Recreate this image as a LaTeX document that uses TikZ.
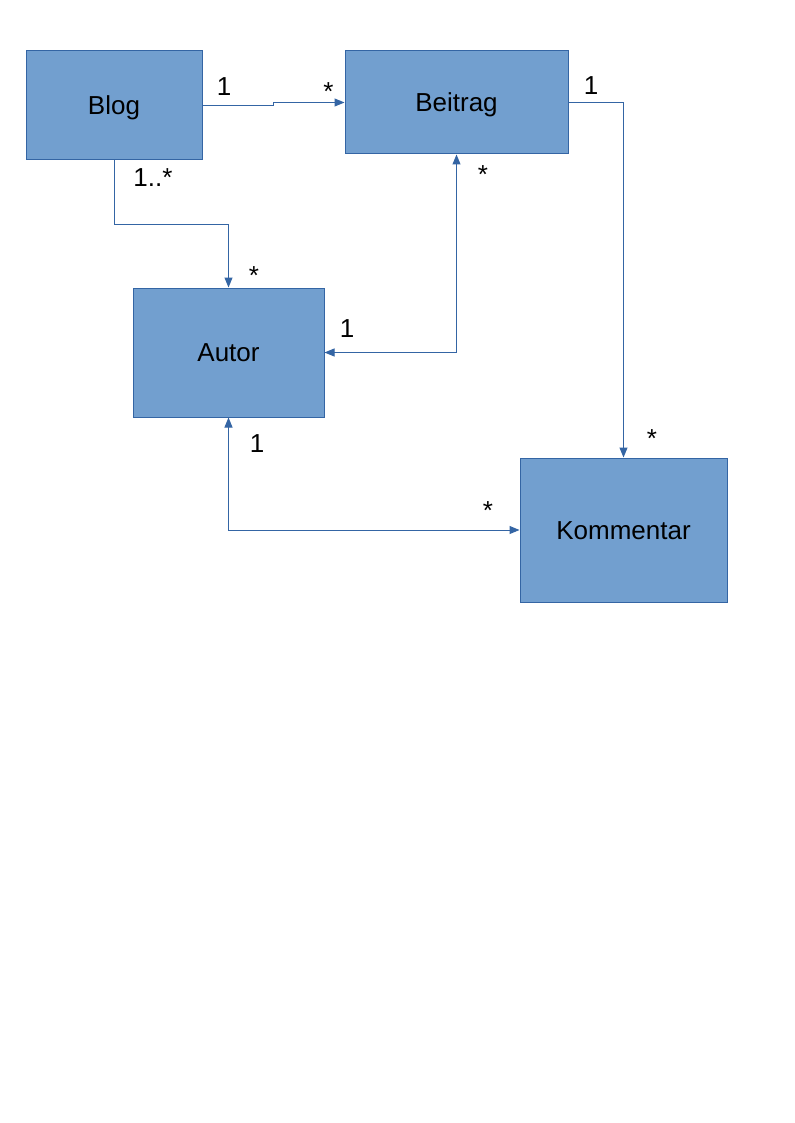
\documentclass[tikz,border=0pt]{standalone}
\usepackage{fontspec}
\setmainfont{Liberation Sans}
\usetikzlibrary{arrows.meta}
\definecolor{boxfill}{HTML}{729FCF}
\definecolor{boxline}{HTML}{3465A4}
\tikzset{
  cls/.style={draw=boxline, fill=boxfill, line width=0.75pt, inner sep=0pt, font=\fontsize{19.5pt}{22pt}\selectfont, text height=17.65pt, text depth=4.13pt},
  conn/.style={draw=boxline, line width=0.75pt, -{Triangle[length=7.5pt,width=6pt]}},
  bconn/.style={draw=boxline, line width=0.75pt, {Triangle[length=7.5pt,width=6pt]}-{Triangle[length=7.5pt,width=6pt]}},
  mult/.style={anchor=base, inner sep=0pt, font=\fontsize{19.5pt}{22pt}\selectfont}
}
\begin{document}
\begin{tikzpicture}[x=0.75pt, y=-0.75pt]
\useasboundingbox (0,0) rectangle (794,1123);
\fill[white] (0,0) rectangle (794,1123);
\node[cls, minimum width=132pt, minimum height=81.75pt] (blog) at (114,105.5) {Blog};
\node[cls, minimum width=167.25pt, minimum height=77.25pt] (beitrag) at (456.5,102.5) {Beitrag};
\node[cls, minimum width=143.25pt, minimum height=96.75pt] (autor) at (228.5,352.5) {Autor};
\node[cls, minimum width=155.25pt, minimum height=108pt] (kommentar) at (623.5,530) {Kommentar};

\draw[conn] (blog.east) -- ++(71,0) |- (beitrag.west);
\draw[conn] (blog.south) -- ++(0,64) -| (autor.north);
\draw[bconn] (beitrag.south) |- (autor.east);
\draw[conn] (beitrag.east) -| (kommentar.north);
\draw[bconn] (autor.south) |- (kommentar.west);

\node[mult] (m1) at (224,96) {1};
\node[mult] (m2) at (328.5,101) {*};
\node[mult] (m3) at (591,95) {1};
\node[mult] (m4) at (153,187) {1..*};
\node[mult] (m5) at (483,184) {*};
\node[mult] (m6) at (254,284) {*};
\node[mult] (m7) at (347,337) {1};
\node[mult] (m8) at (257,452) {1};
\node[mult] (m9) at (652,447) {*};
\node[mult] (m10) at (488,519) {*};
\end{tikzpicture}
\end{document}
